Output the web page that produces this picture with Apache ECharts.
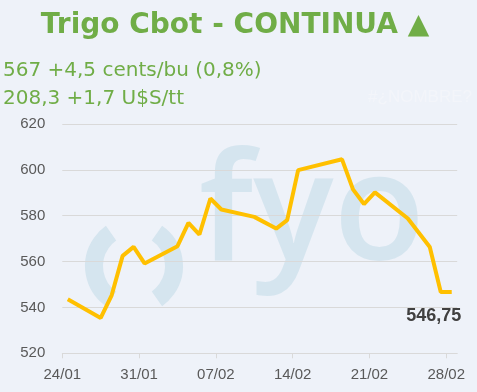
<!DOCTYPE html>
<html><head><meta charset="utf-8">
<script src="https://cdn.jsdelivr.net/npm/echarts@6/dist/echarts.min.js"></script>
<style>html,body{margin:0;padding:0;background:#EEF2F9;}#c{width:477px;height:392px;}</style>
</head><body><div id="c"></div>
<script>
// ---- data ----
const titleText = 'Trigo Cbot - CONTINUA \u25B2';
const subLine1 = '567 +4,5 cents/bu (0,8%)';
const subLine2 = '208,3 +1,7 U$S/tt';
const dates = ['24/01','27/01','28/01','29/01','30/01','31/01','03/02','04/02','05/02','06/02','07/02',
  '10/02','12/02','13/02','14/02','18/02','19/02','20/02','21/02','24/02','26/02','27/02','28/02'];
const prices = [543.6,535.4,545.3,562.5,566.4,559.2,566.7,576.9,571.8,587.5,582.7,
  579.5,574.4,578.1,599.9,604.6,591.5,585.1,590.2,578.8,566.4,546.75,546.75];
const xTickLabels = ['24/01','31/01','07/02','14/02','21/02','28/02'];
const yTicks = [520,540,560,580,600,620];
const year = 2025;

function dayOffset(s){
  const [d,m] = s.split('/').map(Number);
  const [d0,m0] = dates[0].split('/').map(Number);
  return Math.round((Date.UTC(year,m-1,d)-Date.UTC(year,m0-1,d0))/86400000);
}
const seriesData = dates.map((d,i)=>[dayOffset(d)+0.5, prices[i]]);
const tickVals = xTickLabels.map(dayOffset);
const labelByVal = {}; xTickLabels.forEach(l=>labelByVal[dayOffset(l)]=l);
const last = seriesData[seriesData.length-1];

const chart = echarts.init(document.getElementById('c'));
const wm = '#D5E5EF';
chart.setOption({
  backgroundColor:'#EEF2F9',
  animation:false,
  graphic:[
    {type:'text', x:235, y:12, z:10, style:{text:titleText, font:'bold 28px "DejaVu Sans"', fill:'#70AD47', textAlign:'center'}},
    {type:'text', x:3, y:71, z:10, style:{text:subLine1, font:'20px "DejaVu Sans"', fill:'#70AD47', textVerticalAlign:'middle'}},
    {type:'text', x:3, y:99, z:10, style:{text:subLine2, font:'20px "DejaVu Sans"', fill:'#70AD47', textVerticalAlign:'middle'}},
    {type:'text', x:472, y:97, z:10, style:{text:'#\u00BFNOMBRE?', font:'17px "Liberation Sans"', fill:'#F3F5FA', textAlign:'right', textVerticalAlign:'middle'}},
    {type:'arc', z:-1, shape:{cx:134, cy:266, r:40, startAngle:125*Math.PI/180, endAngle:235*Math.PI/180, clockwise:true}, style:{stroke:wm, lineWidth:18, fill:null}},
    {type:'arc', z:-1, shape:{cx:134, cy:266, r:40, startAngle:-55*Math.PI/180, endAngle:55*Math.PI/180, clockwise:true}, style:{stroke:wm, lineWidth:18, fill:null}},
    {type:'text', z:-1, x:199, y:217, style:{text:'fyo', font:'600 150px "Open Sans"', fill:wm, textVerticalAlign:'middle'}}
  ],
  grid:{left:62.3, right:19.8, top:124, bottom:38.7},
  xAxis:{type:'value', min:0, max:36, interval:7,
    axisLine:{show:true, lineStyle:{color:'#D9D9D9', width:1}},
    axisTick:{show:true, length:5, lineStyle:{color:'#D9D9D9'}, customValues:tickVals},
    axisLabel:{color:'#595959', fontSize:15, fontFamily:'Liberation Sans', margin:14, customValues:tickVals,
      formatter:v=>labelByVal[v]||''},
    splitLine:{show:false}},
  yAxis:{type:'value', min:yTicks[0], max:yTicks[yTicks.length-1], interval:20,
    axisLine:{show:false}, axisTick:{show:false},
    axisLabel:{color:'#595959', fontSize:15, fontFamily:'Liberation Sans', margin:17},
    splitLine:{lineStyle:{color:'#D9D9D9', width:1}}},
  series:[{type:'line', data:seriesData, symbol:'none', lineStyle:{color:'#FFC000', width:4},
    markPoint:{symbol:'circle', symbolSize:0, silent:true,
      data:[{coord:last, label:{show:true, formatter:last[1].toFixed(2).replace('.',','),
        offset:[-18,24], color:'#404040', fontWeight:'bold', fontSize:18, fontFamily:'Liberation Sans'}}]}}]
});
</script></body></html>
